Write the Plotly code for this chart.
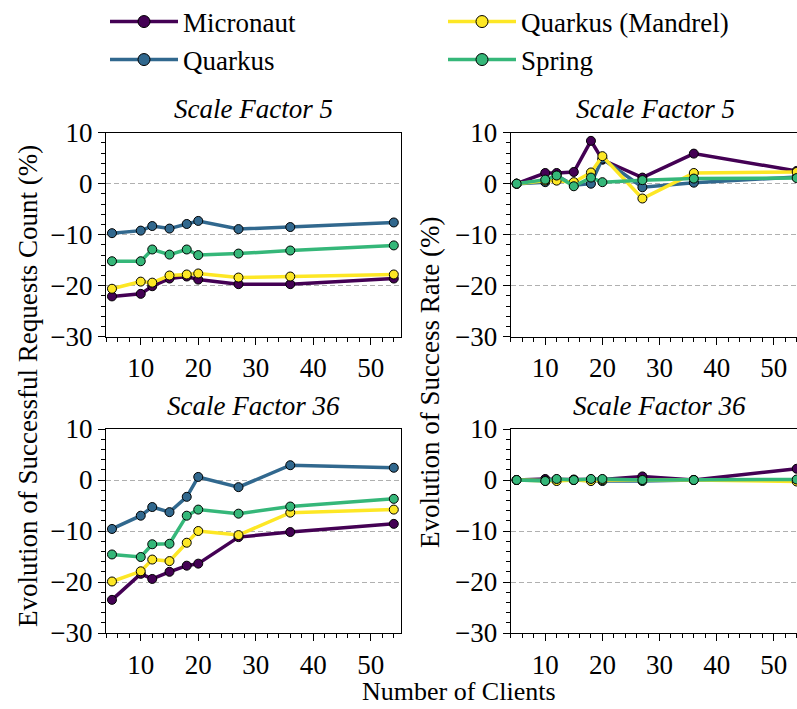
import plotly.graph_objects as go

W, H = 797, 709

clients = [5, 10, 12, 15, 18, 20, 27, 36, 54]

frameworks = ["Micronaut", "Quarkus", "Quarkus (Mandrel)", "Spring"]
colors = {"Micronaut": "#440154", "Quarkus": "#31688e",
          "Quarkus (Mandrel)": "#fde725", "Spring": "#35b779"}

# Evolution of successful requests count (%) - scale factor 5
req_sf5_micronaut = [-22.1, -21.6, -20.1, -18.6, -18.2, -18.8, -19.7, -19.7, -18.6]
req_sf5_quarkus = [-9.7, -9.2, -8.3, -8.8, -7.9, -7.3, -8.9, -8.5, -7.6]
req_sf5_mandrel = [-20.6, -19.2, -19.4, -18.0, -17.8, -17.6, -18.4, -18.2, -17.8]
req_sf5_spring = [-15.2, -15.2, -12.9, -13.9, -12.9, -14.0, -13.7, -13.1, -12.1]

# Evolution of successful requests count (%) - scale factor 36
req_sf36_micronaut = [-23.5, -18.4, -19.4, -18.0, -16.8, -16.4, -11.2, -10.2, -8.6]
req_sf36_quarkus = [-9.6, -7.0, -5.3, -6.3, -3.3, 0.6, -1.4, 2.9, 2.4]
req_sf36_mandrel = [-19.9, -17.9, -15.6, -15.9, -12.3, -10.0, -10.8, -6.4, -5.8]
req_sf36_spring = [-14.6, -15.1, -12.6, -12.5, -7.0, -5.8, -6.6, -5.2, -3.7]

# Evolution of success rate (%) - scale factor 5
rate_sf5_micronaut = [0.0, 2.1, 2.1, 2.3, 8.4, 4.7, 1.2, 5.9, 2.5]
rate_sf5_quarkus = [0.0, 0.3, 1.6, -0.3, 0.0, 4.9, -0.7, 0.2, 1.3]
rate_sf5_mandrel = [0.0, 0.6, 0.6, 0.3, 2.2, 5.4, -2.9, 2.1, 2.3]
rate_sf5_spring = [0.0, 0.8, 1.6, -0.5, 1.2, 0.3, 0.7, 1.0, 1.1]

# Evolution of success rate (%) - scale factor 36
rate_sf36_micronaut = [0.0, 0.2, 0.1, 0.1, 0.1, 0.1, 0.7, 0.0, 2.2]
rate_sf36_quarkus = [0.0, -0.1, 0.0, 0.0, -0.1, -0.2, -0.2, 0.0, 0.0]
rate_sf36_mandrel = [0.0, -0.2, -0.2, 0.0, -0.2, 0.0, 0.0, 0.0, -0.3]
rate_sf36_spring = [0.0, -0.2, 0.2, 0.0, 0.2, 0.2, 0.0, 0.0, 0.1]

panels = [
    ("x", "y", [req_sf5_micronaut, req_sf5_quarkus, req_sf5_mandrel, req_sf5_spring]),
    ("x2", "y2", [rate_sf5_micronaut, rate_sf5_quarkus, rate_sf5_mandrel, rate_sf5_spring]),
    ("x3", "y3", [req_sf36_micronaut, req_sf36_quarkus, req_sf36_mandrel, req_sf36_spring]),
    ("x4", "y4", [rate_sf36_micronaut, rate_sf36_quarkus, rate_sf36_mandrel, rate_sf36_spring]),
]

FONT = "Liberation Serif"
FS = 27

fig = go.Figure()
for xa, ya, series in panels:
    for name, vals in zip(frameworks, series):
        fig.add_trace(go.Scatter(
            x=clients, y=vals, xaxis=xa, yaxis=ya, mode="lines+markers",
            name=name, showlegend=False,
            line=dict(color=colors[name], width=3.5),
            marker=dict(size=9, color=colors[name], line=dict(color="black", width=1)),
        ))

# legend entries (one legend per entry for matplotlib-like 2x2 placement)
leg_ids = ["legend", "legend2", "legend3", "legend4"]
for name, lid in zip(frameworks, leg_ids):
    fig.add_trace(go.Scatter(
        x=[None], y=[None], mode="lines+markers", name=name, legend=lid,
        showlegend=True,
        line=dict(color=colors[name], width=3.5),
        marker=dict(size=12, color=colors[name], line=dict(color="black", width=1)),
    ))

def px_x(p):
    return p / W

def px_y(p):
    return 1 - p / H

leg_pos = {"legend": (105, 22), "legend2": (105, 60),
           "legend3": (443, 22), "legend4": (443, 60)}
leg_layout = {}
for lid, (lx, ly) in leg_pos.items():
    leg_layout[lid] = dict(
        x=px_x(lx), y=px_y(ly), xanchor="left", yanchor="middle",
        bgcolor="rgba(0,0,0,0)", borderwidth=0,
        font=dict(family=FONT, size=FS, color="black"),
        itemwidth=68,
    )

left_dom = [px_x(106), px_x(400.7)]
right_dom = [px_x(510.7), 1.0]
top_dom = [px_y(336.7), px_y(132.7)]
bot_dom = [px_y(633), px_y(429)]

tickfont = dict(family=FONT, size=FS, color="black")

def xaxis(dom, anchor, rng):
    return dict(domain=dom, anchor=anchor, range=rng,
                showline=True, linecolor="black", linewidth=1.3, mirror=True,
                ticks="outside", ticklen=7, tickwidth=1.2, tickcolor="black",
                tickmode="array", tickvals=[10, 20, 30, 40, 50],
                minor=dict(tickmode="linear", tick0=0, dtick=2, ticks="outside",
                           ticklen=4, tickwidth=1, tickcolor="black", showgrid=False),
                showgrid=False, zeroline=False, tickfont=tickfont, automargin=False)

def yaxis(dom, anchor, mirror):
    return dict(domain=dom, anchor=anchor, range=[-30, 10],
                showline=True, linecolor="black", linewidth=1.3, mirror=mirror,
                ticks="outside", ticklen=7, tickwidth=1.2, tickcolor="black",
                tickmode="array", tickvals=[-30, -20, -10, 0, 10],
                minor=dict(tickmode="linear", tick0=0, dtick=2, ticks="outside",
                           ticklen=4, tickwidth=1, tickcolor="black", showgrid=False),
                showgrid=True, gridcolor="#b0b0b0", gridwidth=1, griddash="5px,3px",
                zeroline=False, tickfont=tickfont, automargin=False)

left_rng = [3.96, 55.2]
right_rng = [3.96, 54.05]

annotations = []
def ann(text, x, y, size=FS, italic=False, angle=0):
    annotations.append(dict(
        text=("<i>%s</i>" % text) if italic else text,
        x=px_x(x), y=px_y(y), xref="paper", yref="paper",
        xanchor="center", yanchor="middle", showarrow=False, textangle=angle,
        font=dict(family=FONT, size=size, color="black")))

ann("Scale Factor 5", 253.4, 109, italic=True)
ann("Scale Factor 5", 655.5, 109, italic=True)
ann("Scale Factor 36", 253.4, 406, italic=True)
ann("Scale Factor 36", 659, 406, italic=True)
ann("Evolution of Successful Requests Count (%)", 28, 386, angle=-90)
ann("Evolution of Success Rate (%)", 430, 383, angle=-90)
ann("Number of Clients", 459, 691, size=26)

fig.update_layout(
    width=W, height=H,
    margin=dict(l=0, r=0, t=0, b=0, autoexpand=False),
    paper_bgcolor="white", plot_bgcolor="white",
    font=dict(family=FONT, size=FS, color="black"),
    xaxis=xaxis(left_dom, "y", left_rng),
    yaxis=yaxis(top_dom, "x", True),
    xaxis2=xaxis(right_dom, "y2", right_rng),
    yaxis2=yaxis(top_dom, "x2", False),
    xaxis3=xaxis(left_dom, "y3", left_rng),
    yaxis3=yaxis(bot_dom, "x3", True),
    xaxis4=xaxis(right_dom, "y4", right_rng),
    yaxis4=yaxis(bot_dom, "x4", False),
    annotations=annotations,
    **leg_layout,
)

fig.write_html("out.html")
